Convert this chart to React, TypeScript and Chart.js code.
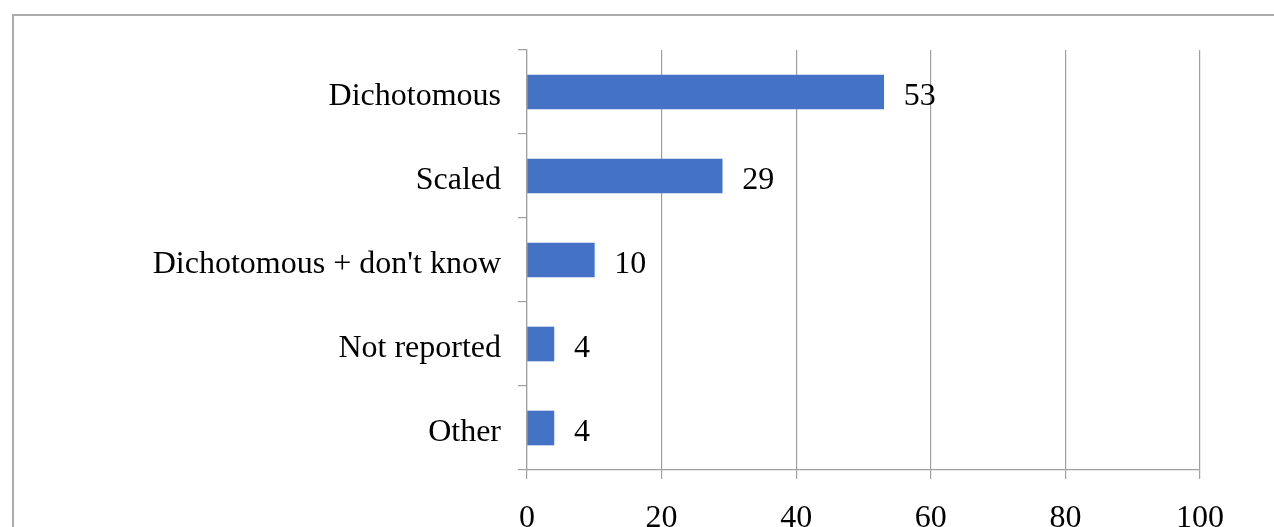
import React, { useEffect, useRef } from "react";
import { Chart, registerables } from "chart.js";

Chart.register(...registerables);

const categories = ["Dichotomous", "Scaled", "Dichotomous + don't know", "Not reported", "Other"];
const values = [53, 29, 10, 4, 4];
const xTicks = [0, 20, 40, 60, 80, 100];

const FONT = "'Liberation Serif', 'Times New Roman', serif";
const GRID = "#a0a0a0";

const framePlugin = {
  id: "frame",
  beforeDraw(chart: any) {
    const ctx = chart.ctx;
    ctx.save();
    ctx.fillStyle = "#ffffff";
    ctx.fillRect(0, 0, chart.width, chart.height);
    ctx.strokeStyle = "#acacac";
    ctx.lineWidth = 2;
    ctx.strokeRect(13, 15, chart.width + 20, chart.height + 20);
    ctx.restore();
  },
};

const valueLabels = {
  id: "valueLabels",
  afterDatasetsDraw(chart: any) {
    const ctx = chart.ctx;
    const meta = chart.getDatasetMeta(0);
    ctx.save();
    ctx.font = `32px ${FONT}`;
    ctx.fillStyle = "#000000";
    ctx.textAlign = "left";
    ctx.textBaseline = "middle";
    meta.data.forEach((bar: any, i: number) => {
      ctx.fillText(String(values[i]), bar.x + 20, bar.y + 5);
    });
    ctx.restore();
  },
};

export default function App() {
  const ref = useRef<HTMLCanvasElement>(null);
  useEffect(() => {
    if (!ref.current) return;
    const chart = new Chart(ref.current, {
      type: "bar",
      data: {
        labels: categories,
        datasets: [
          {
            data: values,
            backgroundColor: "#4472C4",
            borderWidth: 0,
            barThickness: 34,
          },
        ],
      },
      options: {
        indexAxis: "y",
        animation: false,
        responsive: false,
        maintainAspectRatio: false,
        layout: { padding: { top: 50, right: 74, left: 0, bottom: 0 } },
        plugins: { legend: { display: false }, tooltip: { enabled: false } },
        scales: {
          x: {
            min: 0,
            max: 100,
            afterBuildTicks(scale: any) {
              scale.ticks = xTicks.map((v) => ({ value: v }));
            },
            afterFit(scale: any) {
              scale.height = 57;
            },
            grid: { color: GRID, lineWidth: 1.2, tickLength: 9, drawTicks: true },
            border: { color: GRID, width: 1.2 },
            ticks: {
              color: "#000000",
              font: { family: FONT, size: 32 },
              padding: 20,
              maxRotation: 0,
            },
          },
          y: {
            afterFit(scale: any) {
              scale.width = 527;
            },
            grid: { drawOnChartArea: false, drawTicks: true, tickLength: 9, color: GRID, lineWidth: 1.2, offset: true },
            border: { color: GRID, width: 1.2 },
            ticks: {
              color: "#000000",
              font: { family: FONT, size: 32 },
              padding: 17,
              labelOffset: 5,
            },
          },
        },
      },
      plugins: [framePlugin, valueLabels],
    });
    return () => chart.destroy();
  }, []);
  return (
    <div style={{ position: "absolute", left: 0, top: 0, width: 1274, height: 527 }}>
      <canvas ref={ref} width={1274} height={527} style={{ display: "block" }} />
    </div>
  );
}
